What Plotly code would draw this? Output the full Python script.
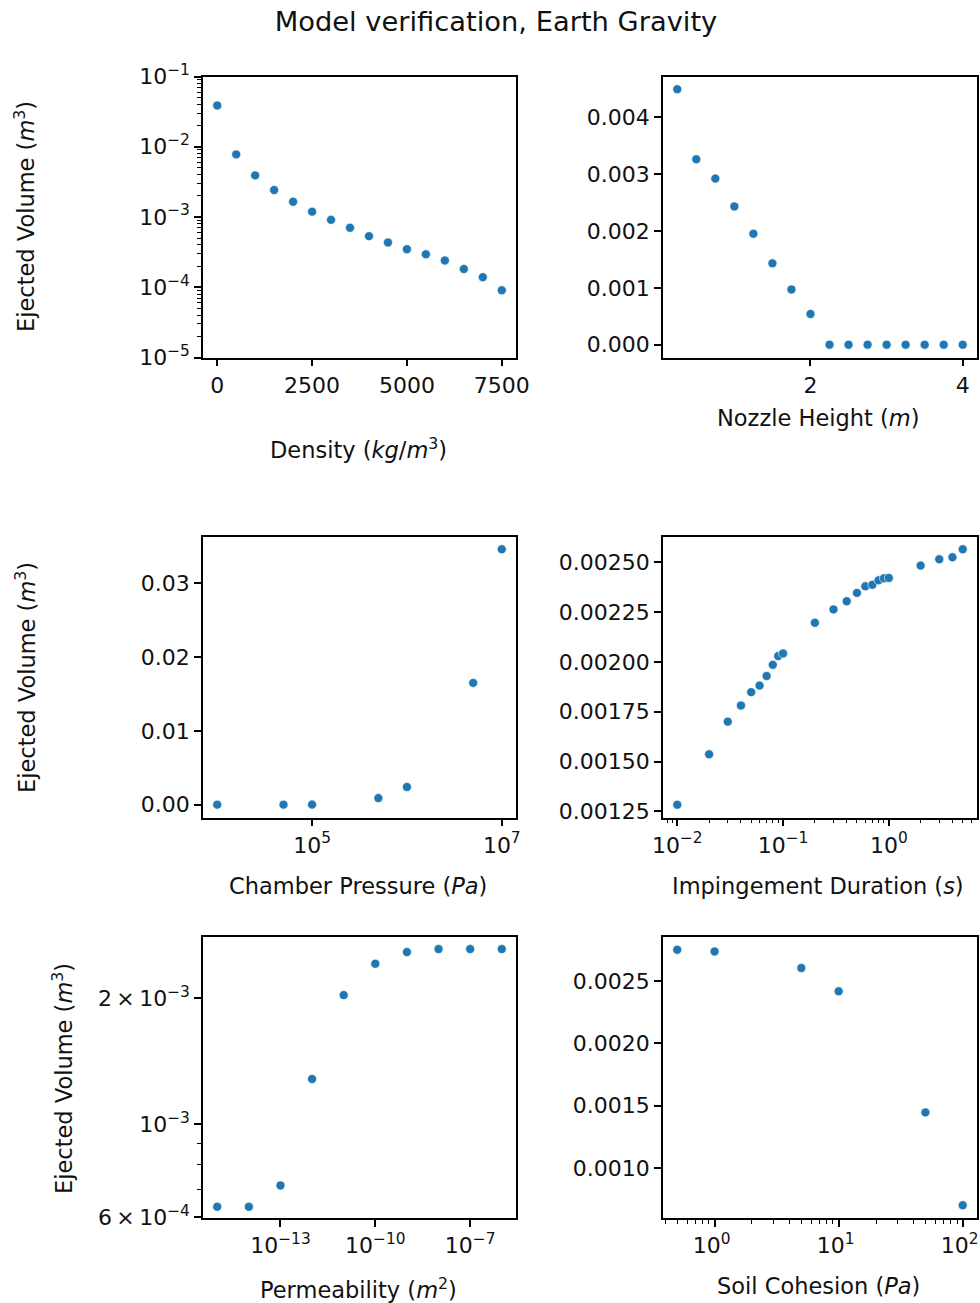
import plotly.graph_objects as go
import numpy as np

W, H = 980, 1303
BLUE = "#1f77b4"
FONT = "DejaVu Sans"

# ---------------- data ----------------
density = [0, 500, 1000, 1500, 2000, 2500, 3000, 3500, 4000, 4500, 5000, 5500, 6000, 6500, 7000, 7500]
vol_density = [0.0386, 0.00778, 0.00391, 0.00242, 0.00165, 0.00119, 0.000912, 0.000702,
               0.000534, 0.000434, 0.000348, 0.000295, 0.000240, 0.000182, 0.000139, 0.0000906]

nozzle_height = [0.25, 0.5, 0.75, 1.0, 1.25, 1.5, 1.75, 2.0, 2.25, 2.5, 2.75, 3.0, 3.25, 3.5, 3.75, 4.0]
vol_nozzle = [0.00449, 0.00326, 0.00292, 0.00243, 0.00195, 0.00143, 0.00097, 0.00054,
              0.0, 0.0, 0.0, 0.0, 0.0, 0.0, 0.0, 0.0]

chamber_pressure = [1e4, 5e4, 1e5, 5e5, 1e6, 5e6, 1e7]
vol_pressure = [0.00001, 0.00001, 0.00002, 0.0009, 0.0024, 0.0165, 0.0346]

duration = [0.01, 0.02, 0.03, 0.04, 0.05, 0.06, 0.07, 0.08, 0.09, 0.1, 0.2, 0.3, 0.4,
            0.5, 0.6, 0.7, 0.8, 0.9, 1.0, 2.0, 3.0, 4.0, 5.0]
vol_duration = [0.001283, 0.001536, 0.001700, 0.001781, 0.001848, 0.001881, 0.001929,
                0.001985, 0.002029, 0.002042, 0.002196, 0.002263, 0.002304, 0.002346,
                0.002379, 0.002387, 0.002409, 0.002419, 0.002421, 0.002483, 0.002515,
                0.002525, 0.002565]

permeability = [1e-15, 1e-14, 1e-13, 1e-12, 1e-11, 1e-10, 1e-9, 1e-8, 1e-7, 1e-6]
vol_perm = [0.000636, 0.000636, 0.000715, 0.001283, 0.002033, 0.002415, 0.002575,
            0.002618, 0.002618, 0.002618]

cohesion = [0.5, 1, 5, 10, 50, 100]
vol_cohesion = [0.002752, 0.002738, 0.002606, 0.002419, 0.001447, 0.000702]

title_text = "Model verification, Earth Gravity"
ylabel = "Ejected Volume (<i>m</i><sup>3</sup>)"
xlabels = ["Density (<i>kg</i>/<i>m</i><sup>3</sup>)", "Nozzle Height (<i>m</i>)",
           "Chamber Pressure (<i>Pa</i>)", "Impingement Duration (<i>s</i>)",
           "Permeability (<i>m</i><sup>2</sup>)", "Soil Cohesion (<i>Pa</i>)"]

# ---------------- layout geometry (pixels) ----------------
col_x = [(203, 516), (663, 977)]
row_y = [(76.5, 357.5), (536.5, 817.5), (937, 1218)]


def xdom(c):
    return [col_x[c][0] / W, col_x[c][1] / W]


def ydom(r):
    return [1 - row_y[r][1] / H, 1 - row_y[r][0] / H]


def sup_minus(n):
    return str(n).replace("-", "\u2212")


def pow_label(e):
    return "10<sup>" + sup_minus(e) + "</sup>"


def minors(lo, hi):
    vals = []
    for e in range(int(np.floor(lo)) - 1, int(np.ceil(hi)) + 1):
        for m in range(2, 10):
            v = m * 10.0 ** e
            if lo <= np.log10(v) <= hi:
                vals.append(v)
    return vals


TXT = "#111111"
TICKFONT = dict(family=FONT, size=22, color=TXT)
LBLFONT = dict(family=FONT, size=22.5, color=TXT)

base_axis = dict(showline=True, linecolor="black", linewidth=1.5, mirror=True,
                 ticks="outside", ticklen=7, tickwidth=1.5, tickcolor="black",
                 showgrid=False, zeroline=False, tickfont=TICKFONT, automargin=False,
                 ticklabeloverflow="allow")

fig = go.Figure()

series = [(density, vol_density), (nozzle_height, vol_nozzle), (chamber_pressure, vol_pressure),
          (duration, vol_duration), (permeability, vol_perm), (cohesion, vol_cohesion)]

for i, (xs, ys) in enumerate(series):
    fig.add_trace(go.Scatter(
        x=xs, y=ys, mode="markers",
        marker=dict(color=BLUE, size=9, line=dict(color="white", width=0.6)),
        xaxis="x" if i == 0 else f"x{i+1}", yaxis="y" if i == 0 else f"y{i+1}",
        showlegend=False, hoverinfo="x+y", cliponaxis=False))

minor_style = dict(ticks="outside", ticklen=4, tickwidth=1.2, tickcolor="black", showgrid=False)

axes = {}
# panel 1
axes["xaxis"] = dict(base_axis, domain=xdom(0), anchor="y", range=[-375, 7875],
                     tickvals=[0, 2500, 5000, 7500])
axes["yaxis"] = dict(base_axis, domain=ydom(0), anchor="x", type="log", range=[-5, -1],
                     tickvals=[10.0 ** e for e in range(-5, 0)],
                     ticktext=[pow_label(e) for e in range(-5, 0)],
                     minor=dict(minor_style, tickmode="array", tickvals=minors(-5, -1)))
# panel 2
axes["xaxis2"] = dict(base_axis, domain=xdom(1), anchor="y2", range=[0.0625, 4.1875],
                      tickvals=[2, 4])
axes["yaxis2"] = dict(base_axis, domain=ydom(0), anchor="x2", range=[-0.0002245, 0.0047145],
                      tickvals=[0, 0.001, 0.002, 0.003, 0.004],
                      ticktext=["0.000", "0.001", "0.002", "0.003", "0.004"])
# panel 3
axes["xaxis3"] = dict(base_axis, domain=xdom(0), anchor="y3", type="log", range=[3.85, 7.15],
                      tickvals=[1e5, 1e7], ticktext=[pow_label(5), pow_label(7)])
axes["yaxis3"] = dict(base_axis, domain=ydom(1), anchor="x3", range=[-0.00173, 0.03633],
                      tickvals=[0, 0.01, 0.02, 0.03],
                      ticktext=["0.00", "0.01", "0.02", "0.03"])
# panel 4
lo4, hi4 = -2.135, 0.834
axes["xaxis4"] = dict(base_axis, domain=xdom(1), anchor="y4", type="log", range=[lo4, hi4],
                      tickvals=[1e-2, 1e-1, 1e0], ticktext=[pow_label(-2), pow_label(-1), pow_label(0)],
                      minor=dict(minor_style, tickmode="array", tickvals=minors(lo4, hi4)))
axes["yaxis4"] = dict(base_axis, domain=ydom(1), anchor="x4", range=[0.001219, 0.002629],
                      tickvals=[0.00125, 0.0015, 0.00175, 0.002, 0.00225, 0.0025],
                      ticktext=["0.00125", "0.00150", "0.00175", "0.00200", "0.00225", "0.00250"])
# panel 5
axes["xaxis5"] = dict(base_axis, domain=xdom(0), anchor="y5", type="log", range=[-15.45, -5.55],
                      tickvals=[1e-13, 1e-10, 1e-7],
                      ticktext=[pow_label(-13), pow_label(-10), pow_label(-7)])
axes["yaxis5"] = dict(base_axis, domain=ydom(2), anchor="x5", type="log",
                      range=[np.log10(0.000598), np.log10(0.002797)],
                      tickvals=[6e-4, 1e-3, 2e-3],
                      ticktext=["6\u2009×\u200910<sup>\u22124</sup>", "10<sup>\u22123</sup>",
                                "2\u2009×\u200910<sup>\u22123</sup>"],
                      minor=dict(minor_style, tickmode="array", tickvals=[7e-4, 8e-4, 9e-4]))
# panel 6
lo6, hi6 = -0.416, 2.115
axes["xaxis6"] = dict(base_axis, domain=xdom(1), anchor="y6", type="log", range=[lo6, hi6],
                      tickvals=[1, 10, 100], ticktext=[pow_label(0), pow_label(1), pow_label(2)],
                      ticklabelshift=-3,
                      minor=dict(minor_style, tickmode="array", tickvals=minors(lo6, hi6)))
axes["yaxis6"] = dict(base_axis, domain=ydom(2), anchor="x6", range=[0.0005995, 0.0028545],
                      tickvals=[0.001, 0.0015, 0.002, 0.0025],
                      ticktext=["0.0010", "0.0015", "0.0020", "0.0025"])

# axis titles as annotations (pixel centers)
annots = []
xlabel_pos = [(358, 448), (818, 418), (358, 886), (818, 886), (358, 1288), (818, 1286)]
for txt, (px, py) in zip(xlabels, xlabel_pos):
    annots.append(dict(text=txt, x=px / W, y=1 - py / H, xref="paper", yref="paper",
                       xanchor="center", yanchor="middle", showarrow=False, font=LBLFONT))
ylabel_pos = [(25, 217), (25, 678), (62, 1078)]
for (px, py) in ylabel_pos:
    annots.append(dict(text=ylabel, x=px / W, y=1 - py / H, xref="paper", yref="paper",
                       xanchor="center", yanchor="middle", showarrow=False, textangle=-90,
                       font=LBLFONT))

fig.update_layout(
    width=W, height=H, autosize=False,
    margin=dict(l=0, r=0, t=0, b=0, autoexpand=False),
    paper_bgcolor="white", plot_bgcolor="white",
    font=dict(family=FONT, color=TXT),
    title=dict(text=title_text, x=496 / W, xanchor="center", y=1 - 21 / H, yanchor="middle",
               yref="container", font=dict(family=FONT, size=27.3, color=TXT)),
    annotations=annots,
    **axes,
)

fig.write_html("out.html")
